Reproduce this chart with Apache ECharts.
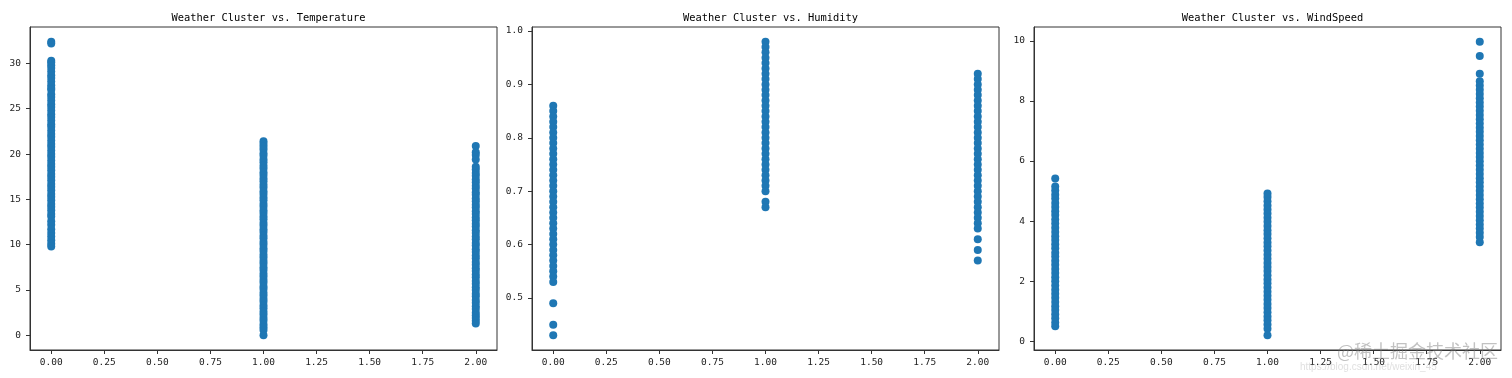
<!DOCTYPE html>
<html>
<head>
<meta charset="utf-8">
<script src="https://cdn.jsdelivr.net/npm/echarts@6/dist/echarts.min.js"></script>
<style>
html,body{margin:0;padding:0;background:#fff;}
#c{width:1512px;height:378px;}
</style>
</head>
<body>
<div id="c"></div>
<script>
// ---- data ----
const clusters = [0, 1, 2];
const titles = ['Weather Cluster vs. Temperature', 'Weather Cluster vs. Humidity', 'Weather Cluster vs. WindSpeed'];

const tempC0 = [32.4, 32.2, 30.3, 30.1, 29.8, 29.5, 29.1, 28.7, 28.4, 28.0, 27.6, 27.3, 27.1, 26.6, 26.3, 25.9, 25.5, 25.2, 24.8, 24.4, 24.1, 23.7, 23.3, 23.0, 22.6, 22.2, 21.9, 21.5, 21.1, 20.8, 20.4, 20.0, 19.7, 19.3, 18.9, 18.6, 18.2, 17.8, 17.5, 17.1, 16.7, 16.4, 16.0, 15.6, 15.3, 14.9, 14.5, 14.2, 13.8, 13.4, 13.1, 12.6, 12.2, 11.7, 11.3, 10.9, 10.5, 10.1, 9.8];
const tempC1 = [21.4, 21.1, 20.8, 20.5, 20.1, 19.8, 19.4, 19.1, 18.7, 18.4, 18.0, 17.7, 17.3, 17.0, 16.6, 16.3, 15.9, 15.6, 15.2, 14.9, 14.5, 14.2, 13.8, 13.5, 13.1, 12.8, 12.4, 12.1, 11.7, 11.4, 11.0, 10.7, 10.3, 10.0, 9.6, 9.3, 8.9, 8.6, 8.2, 7.9, 7.5, 7.2, 6.8, 6.5, 6.1, 5.8, 5.4, 5.1, 4.7, 4.4, 4.0, 3.7, 3.3, 3.0, 2.6, 2.3, 1.9, 1.6, 1.2, 0.9, 0.6, 0.0];
const tempC2 = [20.9, 20.2, 19.9, 19.4, 18.6, 18.3, 17.9, 17.6, 17.2, 16.9, 16.5, 16.2, 15.8, 15.5, 15.1, 14.8, 14.4, 14.1, 13.7, 13.4, 13.0, 12.7, 12.3, 12.0, 11.6, 11.3, 10.9, 10.6, 10.2, 9.9, 9.5, 9.2, 8.8, 8.5, 8.1, 7.8, 7.4, 7.1, 6.7, 6.4, 6.0, 5.7, 5.3, 5.0, 4.6, 4.3, 3.9, 3.6, 3.2, 2.9, 2.5, 2.2, 1.9, 1.6, 1.3];

const humC0 = [0.86, 0.85, 0.84, 0.83, 0.82, 0.81, 0.80, 0.79, 0.78, 0.77, 0.76, 0.75, 0.74, 0.73, 0.72, 0.71, 0.70, 0.69, 0.68, 0.67, 0.66, 0.65, 0.64, 0.63, 0.62, 0.61, 0.60, 0.59, 0.58, 0.57, 0.56, 0.55, 0.54, 0.53, 0.49, 0.45, 0.43];
const humC1 = [0.98, 0.97, 0.96, 0.95, 0.94, 0.93, 0.92, 0.91, 0.90, 0.89, 0.88, 0.87, 0.86, 0.85, 0.84, 0.83, 0.82, 0.81, 0.80, 0.79, 0.78, 0.77, 0.76, 0.75, 0.74, 0.73, 0.72, 0.71, 0.70, 0.68, 0.67];
const humC2 = [0.92, 0.91, 0.90, 0.89, 0.88, 0.87, 0.86, 0.85, 0.84, 0.83, 0.82, 0.81, 0.80, 0.79, 0.78, 0.77, 0.76, 0.75, 0.74, 0.73, 0.72, 0.71, 0.70, 0.69, 0.68, 0.67, 0.66, 0.65, 0.64, 0.63, 0.61, 0.59, 0.57];

const windC0 = [5.42, 5.15, 5.02, 4.88, 4.75, 4.60, 4.47, 4.33, 4.20, 4.05, 3.92, 3.78, 3.64, 3.50, 3.37, 3.23, 3.10, 2.95, 2.82, 2.68, 2.55, 2.41, 2.27, 2.13, 2.00, 1.86, 1.72, 1.58, 1.45, 1.31, 1.17, 1.04, 0.90, 0.77, 0.63, 0.50];
const windC1 = [4.92, 4.80, 4.66, 4.52, 4.39, 4.25, 4.11, 3.98, 3.84, 3.70, 3.57, 3.43, 3.29, 3.16, 3.02, 2.88, 2.75, 2.61, 2.47, 2.34, 2.20, 2.06, 1.93, 1.79, 1.65, 1.52, 1.38, 1.24, 1.11, 0.97, 0.83, 0.70, 0.56, 0.42, 0.20];
const windC2 = [9.97, 9.49, 8.90, 8.65, 8.51, 8.37, 8.23, 8.09, 7.95, 7.81, 7.67, 7.53, 7.39, 7.25, 7.11, 6.97, 6.83, 6.69, 6.55, 6.41, 6.27, 6.13, 5.99, 5.85, 5.71, 5.57, 5.43, 5.29, 5.15, 5.01, 4.87, 4.73, 4.59, 4.45, 4.31, 4.17, 4.03, 3.89, 3.75, 3.61, 3.47, 3.30];

const xTicks = [0, 0.25, 0.5, 0.75, 1.0, 1.25, 1.5, 1.75, 2.0];
const tempTicks = [0, 5, 10, 15, 20, 25, 30];
const humTicks = [0.5, 0.6, 0.7, 0.8, 0.9, 1.0];
const windTicks = [0, 2, 4, 6, 8, 10];

// ---- build ----
function pts(groups) {
  const out = [];
  groups.forEach((vals, i) => vals.forEach(v => out.push([clusters[i], v])));
  return out;
}
const panels = [
  { groups: [tempC0, tempC1, tempC2], ticks: tempTicks, fmt: v => String(v) },
  { groups: [humC0, humC1, humC2], ticks: humTicks, fmt: v => v.toFixed(1) },
  { groups: [windC0, windC1, windC2], ticks: windTicks, fmt: v => String(v) }
];
function range(groups) {
  let lo = Infinity, hi = -Infinity;
  groups.forEach(g => g.forEach(v => { lo = Math.min(lo, v); hi = Math.max(hi, v); }));
  const m = (hi - lo) * 0.05;
  return [lo - m, hi + m];
}
const FONT = '"DejaVu Sans Mono", monospace';
const lefts = [30, 532, 1034];
const W = 467, TOP = 27, H = 323;

const option = {
  animation: false,
  backgroundColor: '#fff',
  title: titles.map((t, i) => ({
    text: t,
    left: lefts[i] + W / 2,
    top: 8,
    textAlign: 'center',
    textStyle: { fontFamily: FONT, fontSize: 10.4, fontWeight: 'normal', color: '#000' }
  })),
  grid: lefts.map(l => ({
    left: l, top: TOP, width: W, height: H,
    show: true, borderColor: '#333', borderWidth: 1, backgroundColor: 'transparent'
  })),
  xAxis: lefts.map((l, i) => ({
    type: 'value', gridIndex: i, min: -0.1, max: 2.1,
    splitLine: { show: false },
    axisLine: { show: true, onZero: false, lineStyle: { color: '#333', width: 1 } },
    axisTick: { show: true, length: 4, customValues: xTicks, lineStyle: { color: '#333' } },
    axisLabel: { customValues: xTicks, formatter: v => v.toFixed(2), margin: 8,
      fontFamily: FONT, fontSize: 9.5, color: '#222' }
  })),
  yAxis: panels.map((p, i) => {
    const r = range(p.groups);
    return {
      type: 'value', gridIndex: i, min: r[0], max: r[1],
      splitLine: { show: false },
      axisLine: { show: true, onZero: false, lineStyle: { color: '#333', width: 1 } },
      axisTick: { show: true, length: 4, customValues: p.ticks, lineStyle: { color: '#333' } },
      axisLabel: { customValues: p.ticks, formatter: p.fmt, margin: 9,
        fontFamily: FONT, fontSize: 9.5, color: '#222' }
    };
  }),
  series: panels.map((p, i) => ({
    type: 'scatter', xAxisIndex: i, yAxisIndex: i,
    symbol: 'circle', symbolSize: 8,
    itemStyle: { color: '#1f77b4', opacity: 1 },
    data: pts(p.groups)
  })),
  graphic: [
    { type: 'text', left: 1337, top: 342, z: 100,
      style: { text: '@稀土掘金技术社区', font: '18px "Noto Sans CJK SC"', fill: 'rgba(120,120,120,0.45)' } },
    { type: 'text', left: 1300, top: 362, z: 100,
      style: { text: 'https://blog.csdn.net/weixin_45', font: '10px "Liberation Sans"', fill: 'rgba(150,150,150,0.3)' } }
  ]
};
const chart = echarts.init(document.getElementById('c'), null, { renderer: 'canvas' });
chart.setOption(option);
</script>
</body>
</html>
